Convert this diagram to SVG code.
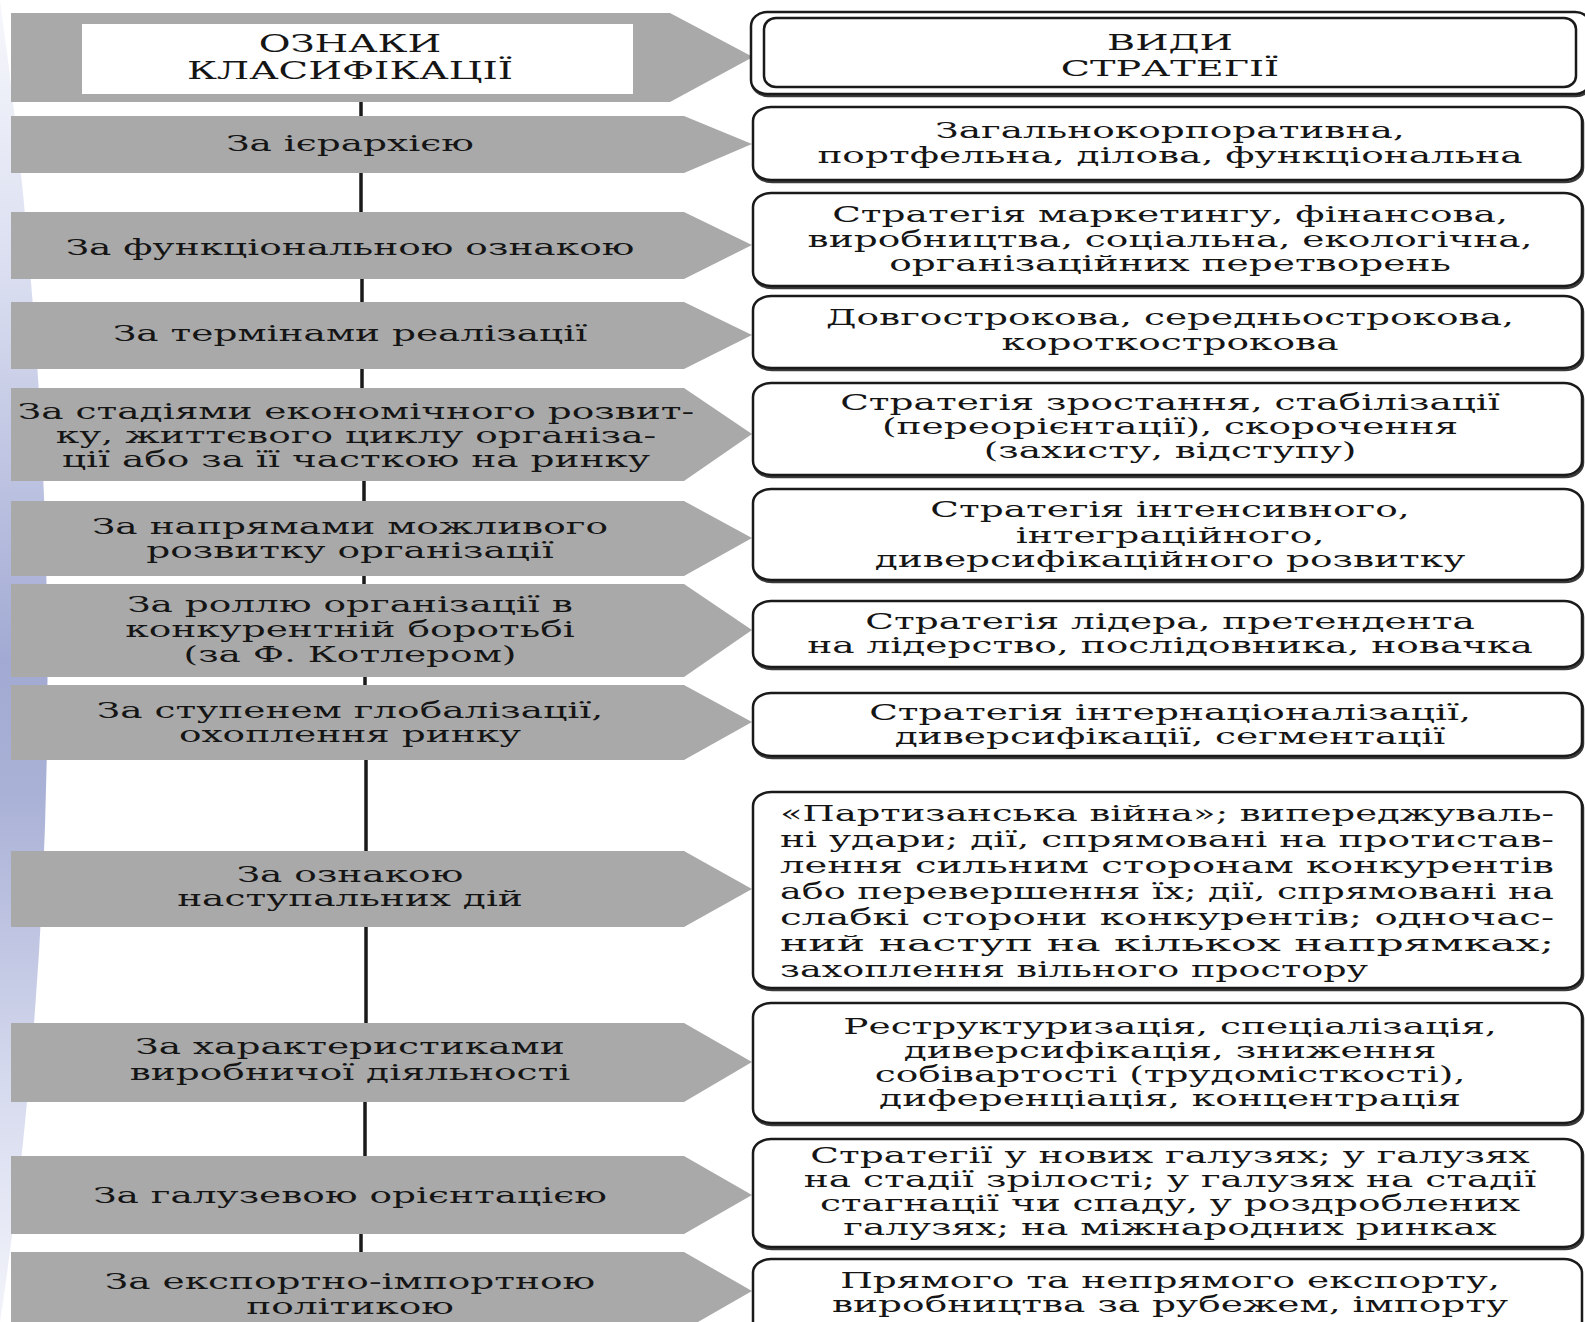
<svg xmlns="http://www.w3.org/2000/svg" width="1585" height="1322" viewBox="0 0 1585 1322">
<defs>
<linearGradient id="bg" x1="0" y1="0" x2="0" y2="1">
<stop offset="0" stop-color="#f7f8fc"/>
<stop offset="0.22" stop-color="#d8dcef"/>
<stop offset="0.5" stop-color="#a2aad3"/>
<stop offset="0.6" stop-color="#a9b1d6"/>
<stop offset="0.82" stop-color="#d6daee"/>
<stop offset="1" stop-color="#f3f4fa"/>
</linearGradient>
<style>
.arr{fill:#a9a9a9}
.box{fill:#fff;stroke:#1a1a1a;stroke-width:2.5}
.shd{fill:none;stroke:#3a3a3a;stroke-width:2.5}
.con{stroke:#1a1a1a;stroke-width:3.5;fill:none}
.t{font-family:"DejaVu Serif","Liberation Serif",serif;font-size:23px;fill:#151515;text-anchor:middle}
.h{font-size:25px}
.hs{font-size:22.5px}
.j{font-family:"DejaVu Serif","Liberation Serif",serif;font-size:23px;fill:#151515}
</style>
</defs>
<rect width="1585" height="1322" fill="#fff"/>
<path d="M0,0 Q95,690 0,1322 Z" fill="url(#bg)"/>
<g id="connectors">
<line class="con" x1="361" y1="101" x2="361" y2="116"/>
<line class="con" x1="361" y1="173" x2="361" y2="212"/>
<line class="con" x1="362" y1="279" x2="362" y2="302"/>
<line class="con" x1="362" y1="369" x2="362" y2="388"/>
<line class="con" x1="364" y1="481" x2="364" y2="501"/>
<line class="con" x1="364" y1="576" x2="364" y2="584"/>
<line class="con" x1="365" y1="677" x2="365" y2="685"/>
<line class="con" x1="366" y1="760" x2="366" y2="851"/>
<line class="con" x1="366" y1="927" x2="366" y2="1023"/>
<line class="con" x1="365" y1="1102" x2="365" y2="1156"/>
<line class="con" x1="361" y1="1234" x2="361" y2="1252"/>
</g>
<g id="n-header-left">
<path class="arr" d="M11,13 H670 L753,57 L670,102 H11 Z"/>
<rect x="82" y="24" width="551" height="70" fill="#fff"/>
<text class="t h" transform="translate(350,0) scale(1.55,1)"><tspan x="0" y="52">ОЗНАКИ</tspan><tspan x="0" y="79">КЛАСИФІКАЦІЇ</tspan></text>
</g>
<g id="n-header-right">
<rect class="shd" x="752" y="14" width="840" height="82" rx="16" ry="14"/>
<rect class="box" x="751" y="12" width="840" height="82" rx="16" ry="14"/>
<rect class="box" x="764" y="18" width="812" height="69" rx="12" ry="11"/>
<text class="t hs" transform="translate(1170,0) scale(1.7,1)"><tspan x="0" y="50">ВИДИ</tspan><tspan x="0" y="76">СТРАТЕГІЇ</tspan></text>
</g>
<g id="n-l2">
<path class="arr" d="M11,116 H684 L752,144 L684,173 H11 Z"/>
<text class="t" transform="translate(350,0) scale(1.63,1)"><tspan x="0" y="151">За ієрархією</tspan></text>
</g>
<g id="n-r2">
<rect class="shd" x="754" y="109" width="829" height="73" rx="18" ry="14"/>
<rect class="box" x="753" y="107" width="829" height="73" rx="18" ry="14"/>
<text class="t" transform="translate(1170,0) scale(1.63,1)"><tspan x="0" y="138">Загальнокорпоративна,</tspan><tspan x="0" y="163">портфельна, ділова, функціональна</tspan></text>
</g>
<g id="n-l3">
<path class="arr" d="M11,212 H684 L752,245 L684,279 H11 Z"/>
<text class="t" transform="translate(350,0) scale(1.63,1)"><tspan x="0" y="255">За функціональною ознакою</tspan></text>
</g>
<g id="n-r3">
<rect class="shd" x="754" y="195" width="829" height="93" rx="18" ry="14"/>
<rect class="box" x="753" y="193" width="829" height="93" rx="18" ry="14"/>
<text class="t" transform="translate(1170,0) scale(1.63,1)"><tspan x="0" y="222">Стратегія маркетингу, фінансова,</tspan><tspan x="0" y="247">виробництва, соціальна, екологічна,</tspan><tspan x="0" y="271">організаційних перетворень</tspan></text>
</g>
<g id="n-l4">
<path class="arr" d="M11,302 H684 L752,335 L684,369 H11 Z"/>
<text class="t" transform="translate(350,0) scale(1.63,1)"><tspan x="0" y="341">За термінами реалізації</tspan></text>
</g>
<g id="n-r4">
<rect class="shd" x="754" y="298" width="829" height="72" rx="18" ry="14"/>
<rect class="box" x="753" y="296" width="829" height="72" rx="18" ry="14"/>
<text class="t" transform="translate(1170,0) scale(1.63,1)"><tspan x="0" y="325">Довгострокова, середньострокова,</tspan><tspan x="0" y="350">короткострокова</tspan></text>
</g>
<g id="n-l5">
<path class="arr" d="M11,388 H684 L752,434 L684,481 H11 Z"/>
<text class="t" transform="translate(356,0) scale(1.63,1)"><tspan x="0" y="419">За стадіями економічного розвит-</tspan><tspan x="0" y="443">ку, життєвого циклу організа-</tspan><tspan x="0" y="467">ції або за її часткою на ринку</tspan></text>
</g>
<g id="n-r5">
<rect class="shd" x="754" y="385" width="829" height="92" rx="18" ry="14"/>
<rect class="box" x="753" y="383" width="829" height="92" rx="18" ry="14"/>
<text class="t" transform="translate(1170,0) scale(1.63,1)"><tspan x="0" y="410">Стратегія зростання, стабілізації</tspan><tspan x="0" y="434">(переорієнтації), скорочення</tspan><tspan x="0" y="458">(захисту, відступу)</tspan></text>
</g>
<g id="n-l6">
<path class="arr" d="M11,501 H684 L752,538 L684,576 H11 Z"/>
<text class="t" transform="translate(350,0) scale(1.63,1)"><tspan x="0" y="534">За напрямами можливого</tspan><tspan x="0" y="558">розвитку організації</tspan></text>
</g>
<g id="n-r6">
<rect class="shd" x="754" y="491" width="829" height="91" rx="18" ry="14"/>
<rect class="box" x="753" y="489" width="829" height="91" rx="18" ry="14"/>
<text class="t" transform="translate(1170,0) scale(1.63,1)"><tspan x="0" y="517">Стратегія інтенсивного,</tspan><tspan x="0" y="543">інтеграційного,</tspan><tspan x="0" y="567">диверсифікаційного розвитку</tspan></text>
</g>
<g id="n-l7">
<path class="arr" d="M11,584 H684 L752,630 L684,677 H11 Z"/>
<text class="t" transform="translate(350,0) scale(1.63,1)"><tspan x="0" y="612">За роллю організації в</tspan><tspan x="0" y="637">конкурентній боротьбі</tspan><tspan x="0" y="662">(за Ф. Котлером)</tspan></text>
</g>
<g id="n-r7">
<rect class="shd" x="754" y="603" width="829" height="66" rx="18" ry="14"/>
<rect class="box" x="753" y="601" width="829" height="66" rx="18" ry="14"/>
<text class="t" transform="translate(1170,0) scale(1.63,1)"><tspan x="0" y="629">Стратегія лідера, претендента</tspan><tspan x="0" y="653">на лідерство, послідовника, новачка</tspan></text>
</g>
<g id="n-l8">
<path class="arr" d="M11,685 H684 L752,722 L684,760 H11 Z"/>
<text class="t" transform="translate(350,0) scale(1.63,1)"><tspan x="0" y="718">За ступенем глобалізації,</tspan><tspan x="0" y="742">охоплення ринку</tspan></text>
</g>
<g id="n-r8">
<rect class="shd" x="754" y="695" width="829" height="63" rx="18" ry="14"/>
<rect class="box" x="753" y="693" width="829" height="63" rx="18" ry="14"/>
<text class="t" transform="translate(1170,0) scale(1.63,1)"><tspan x="0" y="720">Стратегія інтернаціоналізації,</tspan><tspan x="0" y="744">диверсифікації, сегментації</tspan></text>
</g>
<g id="n-l9">
<path class="arr" d="M11,851 H684 L752,889 L684,927 H11 Z"/>
<text class="t" transform="translate(350,0) scale(1.63,1)"><tspan x="0" y="882">За ознакою</tspan><tspan x="0" y="906">наступальних дій</tspan></text>
</g>
<g id="n-r9">
<rect class="shd" x="754" y="794" width="829" height="196" rx="18" ry="14"/>
<rect class="box" x="753" y="792" width="829" height="196" rx="18" ry="14"/>
<text class="j" x="780" y="821" textLength="774" lengthAdjust="spacingAndGlyphs">«Партизанська війна»; випереджуваль-</text>
<text class="j" x="780" y="847" textLength="774" lengthAdjust="spacingAndGlyphs">ні удари; дії, спрямовані на протистав-</text>
<text class="j" x="780" y="873" textLength="774" lengthAdjust="spacingAndGlyphs">лення сильним сторонам конкурентів</text>
<text class="j" x="780" y="899" textLength="774" lengthAdjust="spacingAndGlyphs">або перевершення їх; дії, спрямовані на</text>
<text class="j" x="780" y="925" textLength="774" lengthAdjust="spacingAndGlyphs">слабкі сторони конкурентів; одночас-</text>
<text class="j" x="780" y="951" textLength="774" lengthAdjust="spacingAndGlyphs">ний наступ на кількох напрямках;</text>
<text class="j" x="780" y="977" textLength="588" lengthAdjust="spacingAndGlyphs">захоплення вільного простору</text>
</g>
<g id="n-l10">
<path class="arr" d="M11,1023 H684 L752,1062 L684,1102 H11 Z"/>
<text class="t" transform="translate(350,0) scale(1.63,1)"><tspan x="0" y="1054">За характеристиками</tspan><tspan x="0" y="1080">виробничої діяльності</tspan></text>
</g>
<g id="n-r10">
<rect class="shd" x="754" y="1005" width="829" height="120" rx="18" ry="14"/>
<rect class="box" x="753" y="1003" width="829" height="120" rx="18" ry="14"/>
<text class="t" transform="translate(1170,0) scale(1.63,1)"><tspan x="0" y="1034">Реструктуризація, спеціалізація,</tspan><tspan x="0" y="1058">диверсифікація, зниження</tspan><tspan x="0" y="1082">собівартості (трудомісткості),</tspan><tspan x="0" y="1106">диференціація, концентрація</tspan></text>
</g>
<g id="n-l11">
<path class="arr" d="M11,1156 H684 L752,1195 L684,1234 H11 Z"/>
<text class="t" transform="translate(350,0) scale(1.63,1)"><tspan x="0" y="1203">За галузевою орієнтацією</tspan></text>
</g>
<g id="n-r11">
<rect class="shd" x="754" y="1141" width="829" height="108" rx="18" ry="14"/>
<rect class="box" x="753" y="1139" width="829" height="108" rx="18" ry="14"/>
<text class="t" transform="translate(1170,0) scale(1.63,1)"><tspan x="0" y="1163">Стратегії у нових галузях; у галузях</tspan><tspan x="0" y="1187">на стадії зрілості; у галузях на стадії</tspan><tspan x="0" y="1211">стагнації чи спаду, у роздроблених</tspan><tspan x="0" y="1235">галузях; на міжнародних ринках</tspan></text>
</g>
<g id="n-l12">
<path class="arr" d="M11,1252 H684 L752,1291 L684,1330 H11 Z"/>
<text class="t" transform="translate(350,0) scale(1.63,1)"><tspan x="0" y="1289">За експортно-імпортною</tspan><tspan x="0" y="1314">політикою</tspan></text>
</g>
<g id="n-r12">
<rect class="box" x="753" y="1259" width="829" height="80" rx="18" ry="14"/>
<text class="t" transform="translate(1170,0) scale(1.63,1)"><tspan x="0" y="1288">Прямого та непрямого експорту,</tspan><tspan x="0" y="1312">виробництва за рубежем, імпорту</tspan></text>
</g>
</svg>
